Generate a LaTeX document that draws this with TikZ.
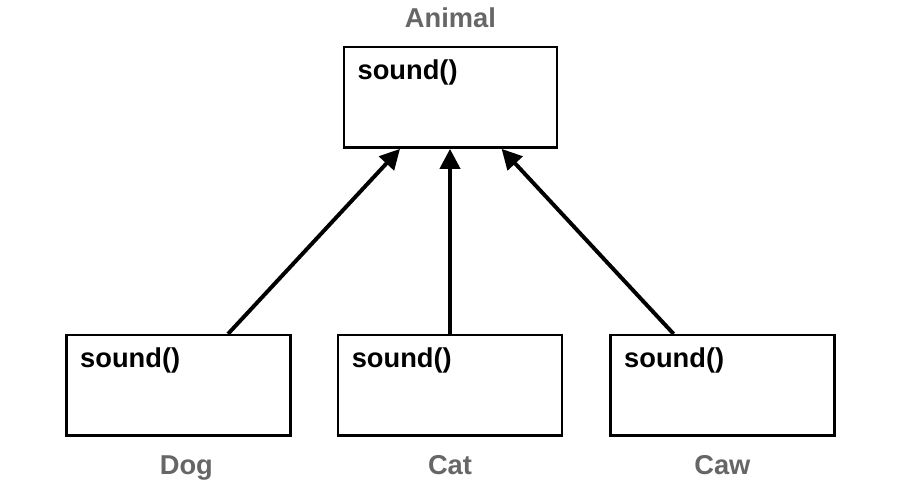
\documentclass[tikz,border=0pt]{standalone}
\usepackage{fontspec}
\setmainfont{Liberation Sans}
\usetikzlibrary{arrows.meta}
\tikzset{
  cls/.style={draw, line width=1.8pt, minimum height=2.51cm, inner sep=0pt},
  meth/.style={anchor=base west, inner sep=0pt, xshift=0.37cm, yshift=-0.85cm,
    font=\fontsize{19.4}{23}\selectfont\bfseries},
  clsname/.style={anchor=base, inner sep=0pt, text=black!60,
    font=\fontsize{19.4}{23}\selectfont\bfseries},
  inh/.style={line width=2.8pt, -{Triangle[length=0.5cm,width=0.5cm]}}
}
\begin{document}
\begin{tikzpicture}
      \useasboundingbox (0,0) rectangle (22.6,12.075);
      \node[cls, minimum width=5.33cm,
        label={[meth]north west:sound()},
        label={[clsname, yshift=0.45cm]north:Animal}] (animal) at (11.26,9.64) {};
      \node[cls, minimum width=5.6cm,
        label={[meth]north west:sound()},
        label={[clsname, xshift=0.2cm, yshift=-0.95cm]south:Dog}] (dog) at (4.46,2.44) {};
      \node[cls, minimum width=5.6cm,
        label={[meth]north west:sound()},
        label={[clsname, yshift=-0.95cm]south:Cat}] (cat) at (11.25,2.44) {};
      \node[cls, minimum width=5.6cm,
        label={[meth]north west:sound()},
        label={[clsname, yshift=-0.95cm]south:Caw}] (caw) at (18.06,2.44) {};
      \draw[inh] ([xshift=1.24cm]dog.north) -- ([xshift=-1.26cm]animal.south);
      \draw[inh] (cat.north) -- (cat.north |- animal.south);
      \draw[inh] ([xshift=-1.22cm]caw.north) -- ([xshift=1.28cm]animal.south);
    \end{tikzpicture}
\end{document}
